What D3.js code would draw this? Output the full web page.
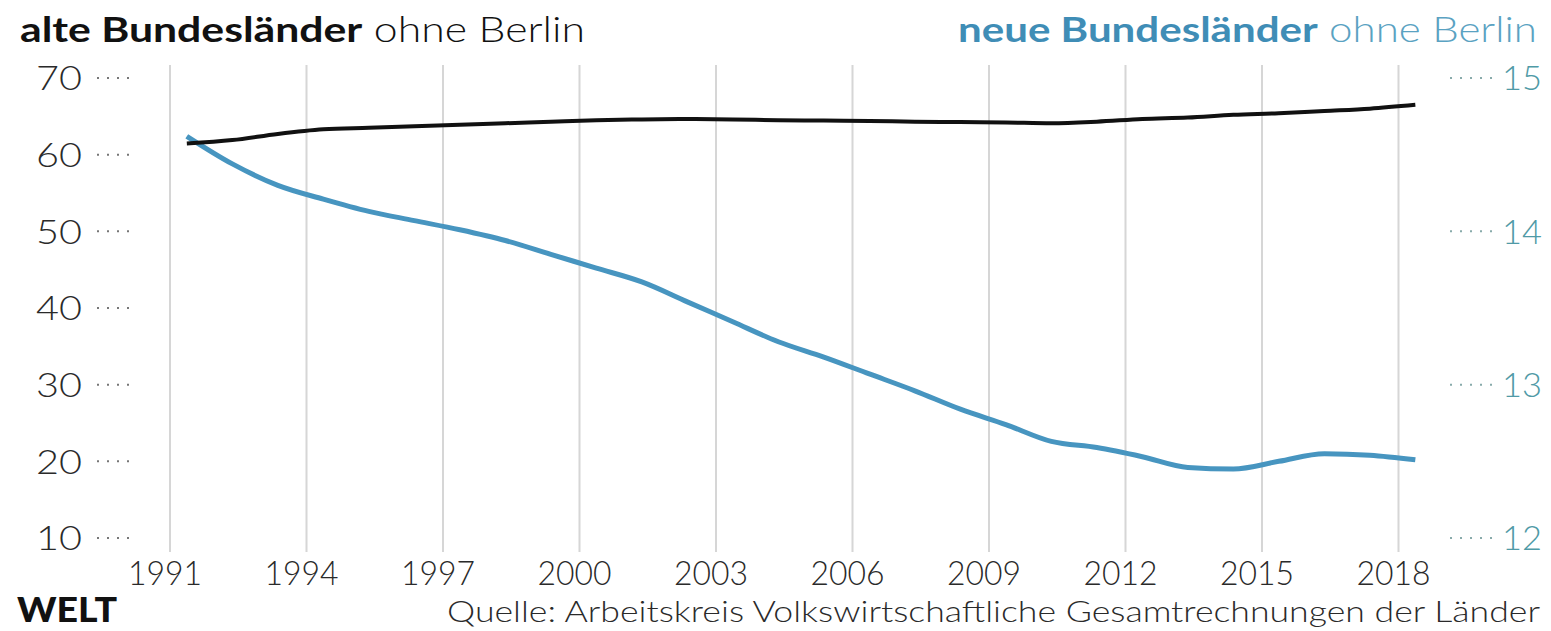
<!DOCTYPE html>
<html>
<head>
<meta charset="utf-8">
<script src="https://cdn.jsdelivr.net/npm/d3@7"></script>
<style>
  body { margin: 0; background: #fff; }
  svg { display: block; font-family: Lato, "Open Sans", sans-serif; }
</style>
</head>
<body>
<div id="chart"></div>
<script>
// data
const years = d3.range(1991, 2019);
const alteValues = [61.46, 61.9, 62.7, 63.3, 63.5, 63.7, 63.9, 64.1, 64.3, 64.5,
  64.6, 64.65, 64.6, 64.5, 64.45, 64.4, 64.3, 64.25, 64.2, 64.1,
  64.3, 64.65, 64.85, 65.2, 65.4, 65.7, 66.0, 66.5];
const neueValues = [14.62, 14.44, 14.30, 14.21, 14.13, 14.07, 14.01, 13.94, 13.85, 13.76,
  13.67, 13.54, 13.41, 13.28, 13.18, 13.07, 12.96, 12.84, 12.74, 12.63,
  12.59, 12.53, 12.46, 12.45, 12.50, 12.55, 12.54, 12.51];
const xTicks = [1991, 1994, 1997, 2000, 2003, 2006, 2009, 2012, 2015, 2018];
const leftTicks = [10, 20, 30, 40, 50, 60, 70];
const rightTicks = [12, 13, 14, 15];

const width = 1551, height = 631;
const blue = "#4795c0";

const svg = d3.select("#chart")
  .append("svg")
  .attr("width", width)
  .attr("height", height);

// scales
const x = d3.scaleLinear().domain([1991, 2018]).range([170, 1398.5]);
const yLeft = d3.scaleLinear().domain([10, 70]).range([538, 78]);
const yRight = d3.scaleLinear().domain([12, 15]).range([538, 78]);
const shift = 0.37; // points sit a little right of the year line

// vertical grid lines
svg.append("g")
  .selectAll("line")
  .data(xTicks)
  .join("line")
  .attr("x1", d => x(d)).attr("x2", d => x(d))
  .attr("y1", 65).attr("y2", 552)
  .attr("stroke", "#d6d6d6")
  .attr("stroke-width", 2);

// x labels
svg.append("g")
  .selectAll("text")
  .data(xTicks)
  .join("text")
  .attr("x", d => x(d) - 5)
  .attr("y", 585)
  .attr("text-anchor", "middle")
  .attr("font-size", 33)
  .attr("font-weight", 300)
  .attr("fill", "#2a2a2a")
  .attr("textLength", 74)
  .attr("lengthAdjust", "spacingAndGlyphs")
  .text(d => d);

// left axis
const gl = svg.append("g");
gl.selectAll("text")
  .data(leftTicks)
  .join("text")
  .attr("x", 82)
  .attr("y", d => yLeft(d))
  .attr("dy", "0.36em")
  .attr("text-anchor", "end")
  .attr("font-size", 34)
  .attr("font-weight", 300)
  .attr("fill", "#2a2a2a")
  .attr("textLength", 46)
  .attr("lengthAdjust", "spacingAndGlyphs")
  .text(d => d);
gl.selectAll("line")
  .data(leftTicks)
  .join("line")
  .attr("x1", 97).attr("x2", 132)
  .attr("y1", d => yLeft(d)).attr("y2", d => yLeft(d))
  .attr("stroke", "#777")
  .attr("stroke-width", 2)
  .attr("stroke-dasharray", "2,8");

// right axis
const gr = svg.append("g");
gr.selectAll("text")
  .data(rightTicks)
  .join("text")
  .attr("x", 1502)
  .attr("y", d => yRight(d))
  .attr("dy", "0.36em")
  .attr("text-anchor", "start")
  .attr("font-size", 34)
  .attr("font-weight", 300)
  .attr("fill", "#4f9aa6")
  .attr("textLength", 40)
  .attr("lengthAdjust", "spacingAndGlyphs")
  .text(d => d);
gr.selectAll("line")
  .data(rightTicks)
  .join("line")
  .attr("x1", 1450).attr("x2", 1492)
  .attr("y1", d => yRight(d)).attr("y2", d => yRight(d))
  .attr("stroke", "#8aa")
  .attr("stroke-width", 2)
  .attr("stroke-dasharray", "2,8");

// lines
svg.append("path")
  .datum(neueValues)
  .attr("fill", "none")
  .attr("stroke", blue)
  .attr("stroke-width", 5)
  .attr("stroke-linejoin", "round")
  .attr("d", d3.line()
    .curve(d3.curveMonotoneX)
    .x((d, i) => x(years[i] + shift))
    .y(d => yRight(d)));

svg.append("path")
  .datum(alteValues)
  .attr("fill", "none")
  .attr("stroke", "#111")
  .attr("stroke-width", 4)
  .attr("stroke-linejoin", "round")
  .attr("d", d3.line()
    .curve(d3.curveMonotoneX)
    .x((d, i) => x(years[i] + shift))
    .y(d => yLeft(d)));

// titles
const t1 = svg.append("text")
  .attr("x", 20).attr("y", 42)
  .attr("font-size", 35)
  .attr("fill", "#111")
  .attr("textLength", 565)
  .attr("lengthAdjust", "spacingAndGlyphs");
t1.append("tspan").attr("font-weight", 700).text("alte Bundesländer");
t1.append("tspan").attr("font-weight", 300).text(" ohne Berlin");

const t2 = svg.append("text")
  .attr("x", 958).attr("y", 42)
  .attr("font-size", 35)
  .attr("textLength", 579)
  .attr("lengthAdjust", "spacingAndGlyphs");
t2.append("tspan").attr("font-weight", 700).attr("fill", "#3f8db6").text("neue Bundesländer");
t2.append("tspan").attr("font-weight", 300).attr("fill", "#5aa2c2").text(" ohne Berlin");

// footer
svg.append("text")
  .attr("x", 17).attr("y", 622)
  .attr("font-size", 34)
  .attr("font-weight", 900)
  .attr("fill", "#111")
  .attr("textLength", 100)
  .attr("lengthAdjust", "spacingAndGlyphs")
  .text("WELT");

svg.append("text")
  .attr("x", 447).attr("y", 622)
  .attr("font-size", 30)
  .attr("font-weight", 300)
  .attr("fill", "#2a2a2a")
  .attr("textLength", 1093)
  .attr("lengthAdjust", "spacingAndGlyphs")
  .text("Quelle: Arbeitskreis Volkswirtschaftliche Gesamtrechnungen der Länder");
</script>
</body>
</html>
